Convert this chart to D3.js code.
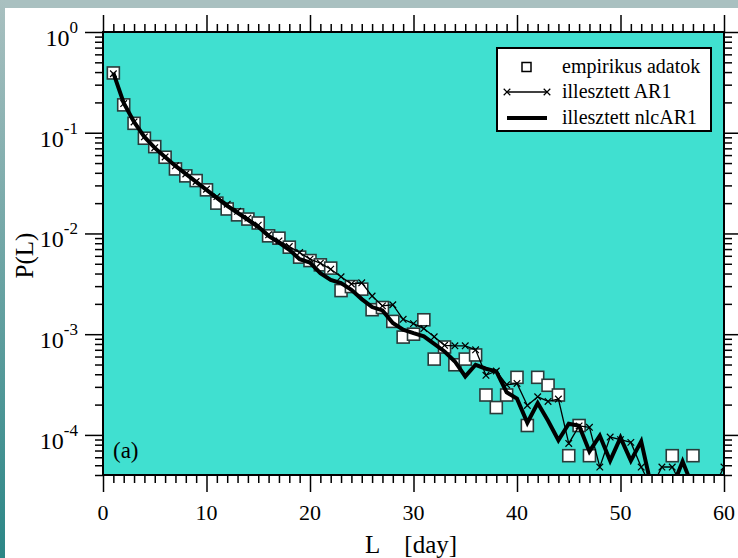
<!DOCTYPE html>
<html>
<head>
<meta charset="utf-8">
<script src="https://cdn.jsdelivr.net/npm/d3@7"></script>
<style>
  body { margin: 0; background: #fff; }
  svg { display: block; font-family: "Liberation Serif", "DejaVu Serif", serif; }
</style>
</head>
<body>
<svg id="chart"></svg>
<script>
// run length L [day]
const lengths = d3.range(1, 61);

// empirical probabilities (0 = no observation)
const empirical = [
  0.392, 0.189, 0.124, 0.0882, 0.0728, 0.0571, 0.0437, 0.0373, 0.0335, 0.0271,
  0.0200, 0.0175, 0.0153, 0.0139, 0.0127, 0.00947, 0.00898, 0.00731, 0.00582, 0.00538,
  0.00488, 0.00453, 0.00271, 0.00297, 0.0028, 0.00175, 0.00184, 0.00134, 0.000936, 0.001,
  0.00139, 0.000566, 0.000746, 0.000497, 0.000566, 0.000622, 0.000249, 0.000187, 0.000249, 0.000373,
  0.000124, 0.000373, 0.000311, 0.000249, 0.0000622, 0.000124, 0.0000622, 0, 0, 0,
  0, 0, 0, 0, 0.0000622, 0, 0.0000622, 0, 0, 0
];

// fitted AR1 model
const ar1 = [
  0.385, 0.195, 0.128, 0.091, 0.071, 0.0575, 0.047, 0.039, 0.0328, 0.0275,
  0.0232, 0.0195, 0.0166, 0.0142, 0.0121, 0.00969, 0.00844, 0.00741, 0.00646, 0.00556,
  0.00507, 0.00442, 0.00371, 0.00315, 0.00324, 0.00239, 0.00191, 0.00196, 0.001405, 0.001274,
  0.001137, 0.000942, 0.000776, 0.000767, 0.000767, 0.0007, 0.000391, 0.000431, 0.000315, 0.000324,
  0.000196, 0.000239, 0.000215, 0.000227, 0.0000823, 0.000123, 0.000119, 0.000048, 0.0000953, 0.0000896,
  0.0000843, 0.000048, 0, 0.000048, 0.000048, 0, 0, 0, 0, 0.000048
];

// fitted nlcAR1 model
const nlcAR1 = [
  0.392, 0.1975, 0.128, 0.0908, 0.0707, 0.0575, 0.0468, 0.039, 0.0325, 0.0271,
  0.02255, 0.01878, 0.01601, 0.01364, 0.01163, 0.00947, 0.00812, 0.00688, 0.00556, 0.00514,
  0.00404, 0.00346, 0.00321, 0.00276, 0.00223, 0.00186, 0.00172, 0.00129, 0.00111, 0.001025,
  0.000953, 0.000803, 0.000674, 0.000536, 0.000381, 0.000497, 0.000454, 0.000427, 0.000265, 0.000229,
  0.000132, 0.000207, 0.000138, 0.0000886, 0.000129, 0.000123, 0.0000686, 0.0000982, 0.0000555, 0.0000938,
  0.0000555, 0.0000862, 0, 0, 0, 0.0000546, 0, 0, 0, 0
];

const xTicks = [0, 10, 20, 30, 40, 50, 60];
const yTicks = [1, 0.1, 0.01, 0.001, 0.0001];
const yTickExp = ['0', '-1', '-2', '-3', '-4'];
const legendLabels = ['empirikus adatok', 'illesztett AR1', 'illesztett nlcAR1'];

const width = 738, height = 558;
const margin = { top: 32, right: 14, bottom: 83, left: 103 };
const pw = width - margin.left - margin.right;
const ph = height - margin.top - margin.bottom;
const pFloor = 3e-5; // where zero values are drawn (below the axis)

const svg = d3.select('#chart').attr('width', width).attr('height', height);

// slide frame
const defs = svg.append('defs');
const grad = defs.append('linearGradient').attr('id', 'side')
  .attr('x1', 0).attr('y1', 0).attr('x2', 0).attr('y2', 1);
grad.append('stop').attr('offset', 0).attr('stop-color', '#a9c0c0');
grad.append('stop').attr('offset', 1).attr('stop-color', '#2b8686');
svg.append('rect').attr('width', width).attr('height', 8).attr('fill', '#a9c0c0');
svg.append('rect').attr('width', 5).attr('height', height).attr('fill', 'url(#side)');

defs.append('clipPath').attr('id', 'plotclip')
  .append('rect').attr('width', pw).attr('height', ph);

const x = d3.scaleLinear().domain([0, 60]).range([0, pw]);
const y = d3.scaleLog().domain([4e-5, 1]).range([ph, 0]);

const g = svg.append('g').attr('transform', `translate(${margin.left},${margin.top})`);

g.append('rect').attr('width', pw).attr('height', ph).attr('fill', '#40e0d0');

// ticks (outward), major + minor on all four sides
const xMinor = d3.range(0, 61).filter(v => v % 10 !== 0);
const yMinor = [];
for (let e = -5; e < 0; e++) for (let m = 2; m < 10; m++) {
  const v = m * Math.pow(10, e);
  if (v >= 4e-5 && v < 1) yMinor.push(v);
}

function tickAxis(axisFn, scale, vals, size, tr) {
  const a = g.append('g').attr('transform', tr)
    .call(axisFn(scale).tickValues(vals).tickSize(size).tickFormat(''));
  a.select('.domain').remove();
  a.selectAll('line').attr('stroke', '#000').attr('stroke-width', 1.5);
}
tickAxis(d3.axisBottom, x, xTicks, 17, `translate(0,${ph})`);
tickAxis(d3.axisBottom, x, xMinor, 8, `translate(0,${ph})`);
tickAxis(d3.axisTop, x, xTicks, 17, 'translate(0,0)');
tickAxis(d3.axisTop, x, xMinor, 8, 'translate(0,0)');
tickAxis(d3.axisLeft, y, yTicks, 18, 'translate(0,0)');
tickAxis(d3.axisLeft, y, yMinor, 8, 'translate(0,0)');
tickAxis(d3.axisRight, y, yTicks, 18, `translate(${pw},0)`);
tickAxis(d3.axisRight, y, yMinor, 8, `translate(${pw},0)`);

// tick labels
g.append('g').selectAll('text').data(xTicks).join('text')
  .attr('x', d => x(d)).attr('y', ph + 45)
  .attr('text-anchor', 'middle').attr('font-size', 22).text(d => d);

const yl = g.append('g').selectAll('text').data(yTicks).join('text')
  .attr('x', -25).attr('y', d => y(d) + 14)
  .attr('text-anchor', 'end').attr('font-size', 24);
yl.append('tspan').text('10');
yl.append('tspan').attr('dy', -13).attr('font-size', 17).text((d, i) => yTickExp[i]);

// axis labels
svg.append('text').attr('transform', `translate(33,${margin.top + ph / 2 + 2}) rotate(-90)`)
  .attr('text-anchor', 'middle').attr('font-size', 25).text('P(L)');
svg.append('text').attr('x', 365).attr('y', 553)
  .attr('font-size', 25).attr('xml:space', 'preserve').text('L    [day]');

g.append('text').attr('x', 10).attr('y', ph - 17).attr('font-size', 23).text('(a)');

// data
const emp = lengths.map((l, i) => ({ l, p: empirical[i] })).filter(d => d.p > 0);
const ar = lengths.map((l, i) => ({ l, p: ar1[i] }));
const nlc = lengths.map((l, i) => ({ l, p: nlcAR1[i] }));

const line = d3.line().x(d => x(d.l)).y(d => y(Math.max(d.p, pFloor)));
const plot = g.append('g').attr('clip-path', 'url(#plotclip)');

plot.selectAll('rect.emp').data(emp).join('rect').attr('class', 'emp')
  .attr('x', d => x(d.l) - 6).attr('y', d => y(d.p) - 6)
  .attr('width', 12).attr('height', 12)
  .attr('fill', '#fff').attr('stroke', '#2a3a3a').attr('stroke-width', 1.6);

plot.append('path').datum(ar).attr('d', line)
  .attr('fill', 'none').attr('stroke', '#000').attr('stroke-width', 1.3);

const cross = d3.symbol().type(d3.symbolX).size(30);
plot.selectAll('path.mk').data(ar.filter(d => d.p > 0)).join('path').attr('class', 'mk')
  .attr('transform', d => `translate(${x(d.l)},${y(d.p)})`)
  .attr('d', cross).attr('fill', 'none').attr('stroke', '#000').attr('stroke-width', 1.2);

plot.append('path').datum(nlc).attr('d', line)
  .attr('fill', 'none').attr('stroke', '#000').attr('stroke-width', 4)
  .attr('stroke-linejoin', 'miter');

// frame
g.append('rect').attr('width', pw).attr('height', ph)
  .attr('fill', 'none').attr('stroke', '#000').attr('stroke-width', 2);

// legend
const lg = g.append('g').attr('transform', `translate(${497 - margin.left},${48 - margin.top})`);
lg.append('rect').attr('width', 214).attr('height', 83)
  .attr('fill', '#fff').attr('stroke', '#000').attr('stroke-width', 2);
const rowY = [19, 44, 70];
lg.append('rect').attr('x', 25).attr('y', rowY[0] - 4.5).attr('width', 9).attr('height', 9)
  .attr('fill', '#fff').attr('stroke', '#000').attr('stroke-width', 1.5);
lg.append('line').attr('x1', 10).attr('x2', 50).attr('y1', rowY[1]).attr('y2', rowY[1])
  .attr('stroke', '#000').attr('stroke-width', 1.3);
[10, 50].forEach(px => lg.append('path').attr('d', cross)
  .attr('transform', `translate(${px},${rowY[1]})`)
  .attr('fill', 'none').attr('stroke', '#000').attr('stroke-width', 1.2));
lg.append('line').attr('x1', 10).attr('x2', 50).attr('y1', rowY[2]).attr('y2', rowY[2])
  .attr('stroke', '#000').attr('stroke-width', 4);
lg.selectAll('text.lt').data(legendLabels).join('text').attr('class', 'lt')
  .attr('x', 65).attr('y', (d, i) => rowY[i] + 6).attr('font-size', 20).text(d => d);
</script>
</body>
</html>
